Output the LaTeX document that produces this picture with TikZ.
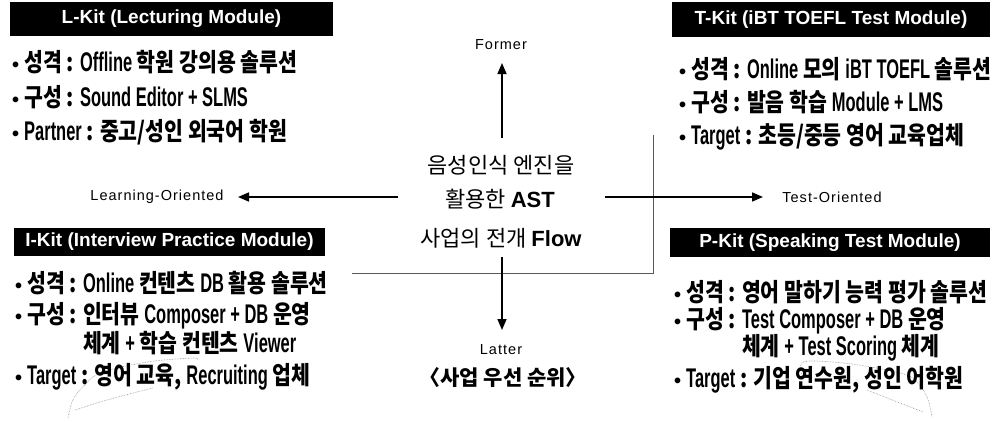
\documentclass[tikz,border=0pt]{standalone}
\usepackage{fontspec}
\usetikzlibrary{arrows.meta}
\setmainfont{Liberation Sans}
\newfontfamily\kb{Noto Sans CJK KR}[FakeStretch=0.82]
\newfontfamily\kr{Noto Sans CJK KR}
\newfontfamily\ltfont{Liberation Sans}[FakeStretch=0.61]
\newfontfamily\lbl{Liberation Sans}[LetterSpace=7]
\newcommand{\bul}{{\rmfamily\fontsize{20}{20}\selectfont •}\hspace{5pt}}
\newcommand{\lt}[1]{{\ltfont\bfseries\fontsize{27}{28}\selectfont #1}}
\tikzset{
  titlebox/.style={fill=black, text=white, font=\bfseries\fontsize{19}{21}\selectfont, inner sep=0pt, anchor=center},
  item/.style={anchor=west, inner sep=0pt, font=\kb\bfseries\fontsize{25}{27}\selectfont},
  axislbl/.style={anchor=center, inner sep=0pt, font=\lbl\fontsize{14.5}{16}\selectfont},
  ctr/.style={anchor=center, inner sep=0pt, font=\kr\fontsize{22}{24}\selectfont},
  arr/.style={line width=1.6pt, -{Triangle[length=11pt,width=9pt]}},
  scanline/.style={black!65, line width=0.9pt},
  smudge/.style={black!45, line width=0.6pt, densely dotted},
}
\begin{document}
\begin{tikzpicture}[x=1pt,y=-1pt]
\useasboundingbox (0,0) rectangle (998,421);
% faint scanned frame
\draw[scanline] (352,273) -- (653,273) -- (653,135);
% smudges
\draw[smudge] plot[smooth] coordinates {(68,418) (72,402) (80,390) (100,373) (147,362) (193,358) (197,360)};
\draw[smudge] plot[smooth] coordinates {(75,410) (100,402) (133,393) (153,388)};
\draw[smudge] plot[smooth] coordinates {(803,380) (803,362) (843,363) (887,370) (913,378) (927,397) (932,417)};
\draw[smudge] plot[smooth] coordinates {(867,390) (900,403) (923,412)};
% title boxes
\node[titlebox, minimum width=323pt, minimum height=34pt] (lkit) at (171.5,19) {L-Kit (Lecturing Module)};
\node[titlebox, minimum width=318pt, minimum height=35pt] (tkit) at (831,19.5) {T-Kit (iBT TOEFL Test Module)};
\node[titlebox, minimum width=311pt, minimum height=28pt] (ikit) at (169.5,242) {I-Kit (Interview Practice Module)};
\node[titlebox, minimum width=320pt, minimum height=29pt] (pkit) at (830,242.5) {P-Kit (Speaking Test Module)};
% L-Kit items
\node[item] (l1) at (12,62) {\bul 성격 : \lt{Offline} 학원 강의용 솔루션};
\node[item] (l2) at (12,97) {\bul 구성 : \lt{Sound Editor + SLMS}};
\node[item] (l3) at (12,132) {\bul \lt{Partner} : 중고/성인 외국어 학원};
% T-Kit items
\node[item] (t1) at (679,69) {\bul 성격 : \lt{Online} 모의 \lt{iBT TOEFL} 솔루션};
\node[item] (t2) at (679,102) {\bul 구성 : 발음 학습 \lt{Module + LMS}};
\node[item] (t3) at (679,137) {\bul \lt{Target} : 초등/중등 영어 교육업체};
% I-Kit items
\node[item] (i1) at (15,283) {\bul 성격 : \lt{Online} 컨텐츠 \lt{DB} 활용 솔루션};
\node[item] (i2) at (15,316) {\bul 구성 : 인터뷰 \lt{Composer + DB} 운영};
\node[item] (i2b) at (15,343) {\phantom{\bul 구성 : }체계 \lt{+} 학습 컨텐츠 \lt{Viewer}};
\node[item] (i3) at (15,377) {\bul \lt{Target} : 영어 교육, \lt{Recruiting} 업체};
% P-Kit items
\node[item] (p1) at (674,292) {\bul 성격 : 영어 말하기 능력 평가 솔루션};
\node[item] (p2) at (674,321) {\bul 구성 : \lt{Test Composer + DB} 운영};
\node[item] (p2b) at (674,348) {\phantom{\bul 구성 : }체계 \lt{+ Test Scoring} 체계};
\node[item] (p3) at (674,380) {\bul \lt{Target} : 기업 연수원, 성인 어학원};
% centre
\node[ctr] (c1) at (501,165) {음성인식 엔진을};
\node[ctr] (c2) at (500,199) {활용한 {\rmfamily\bfseries AST}};
\node[ctr] (c3) at (501,238) {사업의 전개 {\rmfamily\bfseries Flow}};
\node[axislbl] (former) at (501,45) {Former};
\node[axislbl] (latter) at (501,350) {Latter};
\node[axislbl] (learn) at (157,197) {Learning-Oriented};
\node[axislbl] (test) at (832,197) {Test-Oriented};
\node[anchor=center, inner sep=0pt, font=\kr\bfseries\fontsize{21}{23}\selectfont] (prio) at (503,378) {〈사업 우선 순위〉};
% arrows
\coordinate (upS) at (502,138);
\coordinate (upE) at (502,63);
\coordinate (dnS) at (502,257);
\coordinate (dnE) at (502,330);
\coordinate (lfS) at (398,197);
\coordinate (lfE) at (238,197);
\coordinate (rtS) at (605,197);
\coordinate (rtE) at (763,197);
\draw[arr] (upS) -- (upE);
\draw[arr] (dnS) -- (dnE);
\draw[arr] (lfS) -- (lfE);
\draw[arr] (rtS) -- (rtE);
\end{tikzpicture}
\end{document}
